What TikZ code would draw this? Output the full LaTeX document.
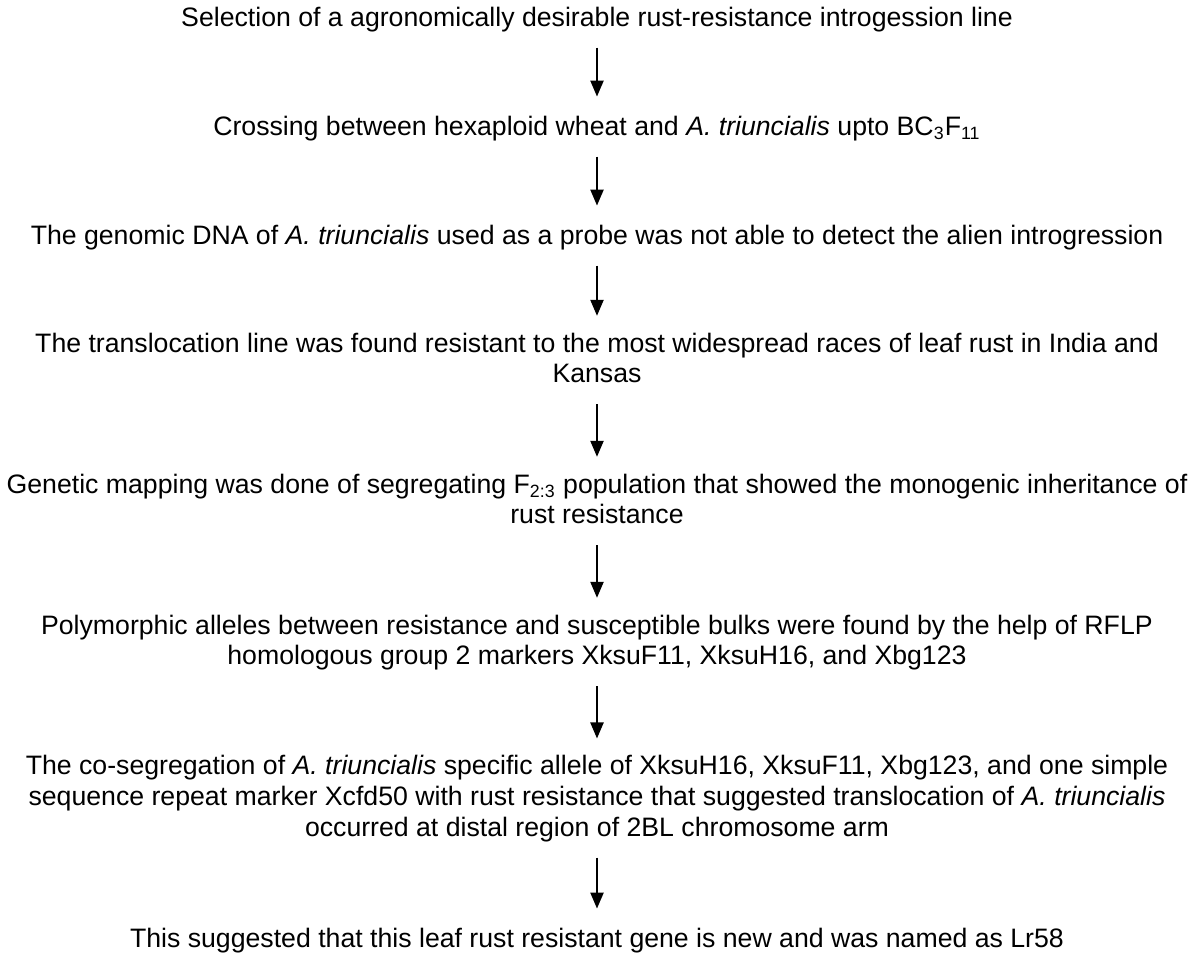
\documentclass[tikz,border=0pt]{standalone}
\usepackage{fontspec}
\setmainfont{Liberation Sans}
\usetikzlibrary{arrows.meta}
\begin{document}
\begin{tikzpicture}[x=0.45pt, y=-0.45pt,
    every node/.style={align=center, inner sep=0pt, font=\fontsize{12}{13.8}\selectfont,
      execute at begin node=\strut, execute at end node=\strut}]
  \useasboundingbox (0,0) rectangle (1195,955);

  % 1. os passos, de cima para baixo
  \node (s1) at (597,20) {Selection of a agronomically desirable rust-resistance introgession line};
  \node (s2) at (597,129) {Crossing between hexaploid wheat and \textit{A. triuncialis} upto BC\textsubscript{3}F\textsubscript{11}};
  \node (s3) at (597,238) {The genomic DNA of \textit{A. triuncialis} used as a probe was not able to detect the alien introgression};
  \node (s4) at (597,362.5) {The translocation line was found resistant to the most widespread races of leaf rust in India and\\Kansas};
  \node (s5) at (597,503.5) {Genetic mapping was done of segregating F\textsubscript{2:3} population that showed the monogenic inheritance of\\rust resistance};
  \node (s6) at (597,644.5) {Polymorphic alleles between resistance and susceptible bulks were found by the help of RFLP\\homologous group 2 markers XksuF11, XksuH16, and Xbg123};
  \node (s7) at (597,800.5) {The co-segregation of \textit{A. triuncialis} specific allele of XksuH16, XksuF11, Xbg123, and one simple\\sequence repeat marker Xcfd50 with rust resistance that suggested translocation of \textit{A. triuncialis}\\occurred at distal region of 2BL chromosome arm};
  \node (s8) at (597,941) {This suggested that this leaf rust resistant gene is new and was named as Lr58};

  % 2. setas entre passos consecutivos
  \foreach \i in {1,...,7} {
    \pgfmathtruncatemacro\nxt{\i+1}
    \draw [line width=0.9pt, -{Triangle[width=5.9pt,length=7.2pt]},
      shorten <=5.3pt, shorten >=7.5pt] (s\i.south) -- (s\nxt.north);
  }

\end{tikzpicture}
\end{document}
